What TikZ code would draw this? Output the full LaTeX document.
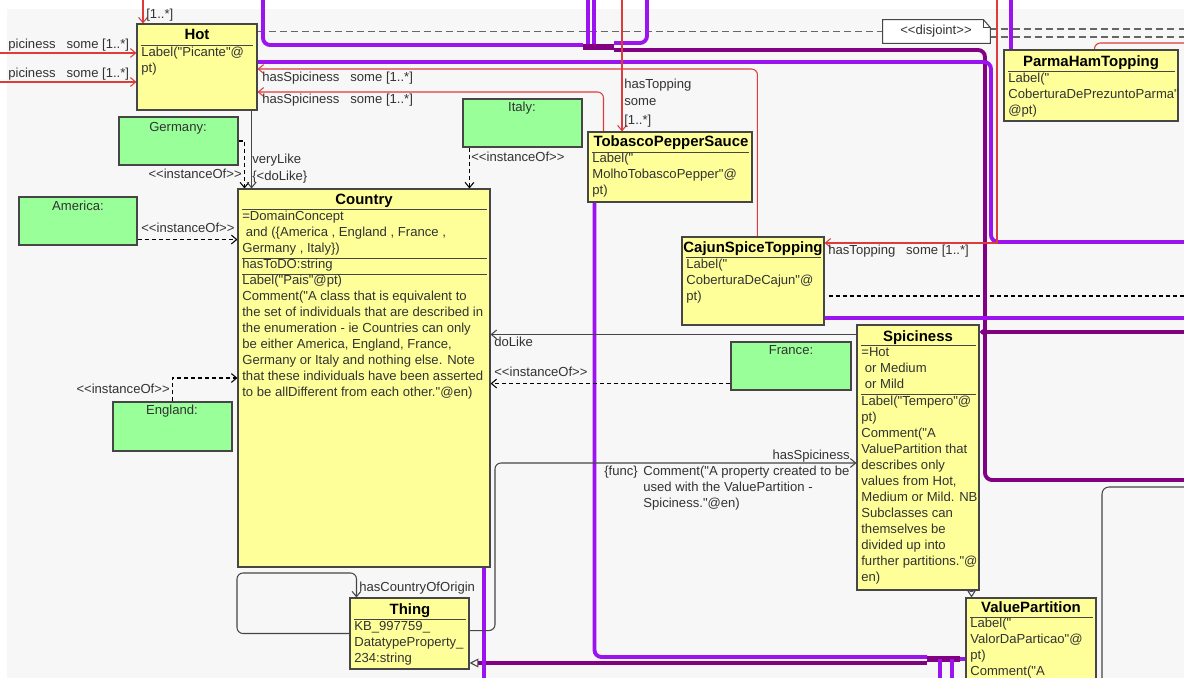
\documentclass[tikz,border=0pt]{standalone}
\usepackage{fontspec}
\newfontfamily\umlfont{Liberation Sans}
\usetikzlibrary{arrows.meta}
\usetikzlibrary{fit,backgrounds}
\usepackage{xcolor}

\definecolor{clsyellow}{RGB}{255,255,153}
\definecolor{instgreen}{RGB}{153,255,153}
\definecolor{canvasgray}{RGB}{247,247,247}
\definecolor{relred}{RGB}{222,60,60}
\definecolor{isaviolet}{RGB}{155,20,240}
\definecolor{isapurple}{RGB}{130,0,130}
\definecolor{edgegray}{RGB}{70,70,70}

\tikzset{
  cls/.style={draw=edgegray, fill=clsyellow, inner sep=0pt, line width=0.6pt},
  inst/.style={draw=edgegray, fill=instgreen, inner sep=0pt, line width=0.6pt},
  body/.style={inner sep=0pt, anchor=base west, text=black!80, font=\umlfont\fontsize{7.45}{9}\selectfont},
  instlbl/.style={body, anchor=base},
  ttl/.style={inner sep=0pt, anchor=base, font=\umlfont\bfseries\fontsize{8.5}{10}\selectfont},
  sep/.style={edgegray, line width=0.5pt},
  rel/.style={relred, line width=0.6pt, -{Straight Barb[length=3pt,width=5pt]}},
  assoc/.style={edgegray, line width=0.6pt, -{Straight Barb[length=3pt,width=5pt]}},
  dsh/.style={black, line width=0.6pt, dash pattern=on 2.3pt off 1.7pt},
  inof/.style={dsh, -{Straight Barb[length=3pt,width=5pt]}},
  disj/.style={black!60, line width=0.6pt, dash pattern=on 4pt off 2.3pt},
  isa/.style={isaviolet, line width=2.2pt},
  isb/.style={isapurple, line width=2.2pt},
}

\begin{document}
\begin{tikzpicture}[x=0.02cm, y=-0.02cm]
\useasboundingbox (0,0) rectangle (1184,678);

% classes
\node[cls, fit={(137,24) (257,110)}] (hot) {};
\node[cls, fit={(238,189) (490,567)}] (country) {};
\node[cls, fit={(588,132) (752,202)}] (tobasco) {};
\node[cls, fit={(682,237) (824,325)}] (cajun) {};
\node[cls, fit={(1004,50) (1178,121)}] (parma) {};
\node[cls, fit={(857,325) (979,590)}] (spiciness) {};
\node[cls, fit={(966,598) (1096,700)}] (valuepart) {};
\node[cls, fit={(350,598) (469,669)}] (thing) {};

% individuals
\node[inst, fit={(119,117) (238,165)}] (germany) {};
\node[inst, fit={(463,99) (582,147)}] (italy) {};
\node[inst, fit={(19,197) (137,245)}] (america) {};
\node[inst, fit={(113,402) (232,451)}] (england) {};
\node[inst, fit={(731,342) (851,390)}] (france) {};

% disjoint note
\node[inner sep=0pt, fit={(883,20) (990,43)}] (disjoint) {};
\draw[edgegray, fill=white, line width=0.6pt] (disjoint.south west) -- (disjoint.north west)
  -- ([xshift=-0.14cm]disjoint.north east) -- ([yshift=-0.16cm]disjoint.north east)
  -- (disjoint.south east) -- cycle;
\draw[edgegray, line width=0.6pt] ([xshift=-0.14cm]disjoint.north east) |- ([yshift=-0.16cm]disjoint.north east);
\node[instlbl] (disjoint-t) at (936,35) {<<disjoint>>};

% titles
\node[ttl] (hot-t) at (197,40) {Hot};
\node[ttl] (country-t) at (364,205) {Country};
\node[ttl] (tobasco-t) at (671,147) {TobascoPepperSauce};
\node[ttl] (cajun-t) at (753,253) {CajunSpiceTopping};
\node[ttl] (parma-t) at (1091,67) {ParmaHamTopping};
\node[ttl] (spiciness-t) at (918,342) {Spiciness};
\node[ttl] (valuepart-t) at (1031,613) {ValuePartition};
\node[ttl] (thing-t) at (410,615) {Thing};

% compartment lines
\draw[sep] (141,45) -- (253,45);
\foreach \y in {209,258,274}
  \draw[sep] (242,\y) -- (487,\y);
\draw[sep] (592,152) -- (749,152);
\draw[sep] (686,257) -- (821,257);
\draw[sep] (1008,71) -- (1175,71);
\foreach \y in {345,394}
  \draw[sep] (861,\y) -- (976,\y);
\draw[sep] (970,617) -- (1093,617);
\draw[sep] (354,619) -- (466,619);

% class texts
\foreach \t [count=\i from 0] in {{Label("Picante"@}, {pt)}}
  \node[body] (hot-\i) at (141,{57+16*\i}) {\t};
\foreach \t [count=\i from 0] in {{=DomainConcept},
    {\hspace{2pt}and (\{America , England , France ,},
    {Germany , Italy\})},
    {hasToDO:string},
    {Label("Pais"@pt)},
    {Comment("A class that is equivalent to},
    {the set of individuals that are described in},
    {the enumeration - ie Countries can only},
    {be either America, England, France,},
    {Germany or Italy and nothing else. Note},
    {that these individuals have been asserted},
    {to be allDifferent from each other."@en)}}
  \node[body] (country-\i) at (242,{221+16*\i}) {\t};
\foreach \t [count=\i from 0] in {{Label("}, {MolhoTobascoPepper"@}, {pt)}}
  \node[body] (tobasco-\i) at (592,{163+16*\i}) {\t};
\foreach \t [count=\i from 0] in {{Label("}, {CoberturaDeCajun"@}, {pt)}}
  \node[body] (cajun-\i) at (686,{269+16*\i}) {\t};
\foreach \t [count=\i from 0] in {{Label("}, {CoberturaDePrezuntoParma"}, {@pt)}}
  \node[body] (parma-\i) at (1008,{83+16*\i}) {\t};
\foreach \t [count=\i from 0] in {{=Hot}, {\hspace{2pt}or Medium}, {\hspace{2pt}or Mild}}
  \node[body] (spicy-\i) at (861,{357+16*\i}) {\t};
\foreach \t [count=\i from 0] in {{Label("Tempero"@}, {pt)}, {Comment("A},
    {ValuePartition that}, {describes only}, {values from Hot,},
    {Medium or Mild. NB}, {Subclasses can}, {themselves be},
    {divided up into}, {further partitions."@}, {en)}}
  \node[body] (spiciness-\i) at (861,{406+16*\i}) {\t};
\foreach \t [count=\i from 0] in {{Label("}, {ValorDaParticao"@}, {pt)}, {Comment("A}}
  \node[body] (valuepart-\i) at (970,{628+16*\i}) {\t};
\foreach \t [count=\i from 0] in {{KB\_997759\_}, {DatatypeProperty\_}, {234:string}}
  \node[body] (thing-\i) at (354,{631+16*\i}) {\t};

% individual names
\node[instlbl] (germany-t) at (178,132) {Germany:};
\node[instlbl] (italy-t) at (522,112) {Italy:};
\node[instlbl] (america-t) at (78,211) {America:};
\node[instlbl] (england-t) at (172,415) {England:};
\node[instlbl] (france-t) at (791,355) {France:};

% free ends
\foreach \n/\x/\y in {tA/143/0, tB/622/0, tC/997/0, v1/263/0, v2/588/0, v3/594/0,
    v4/647/0, v6/1011/0, lA/0/53, lB/0/82, rA/1190/43, rB/1190/29, rC/1190/37,
    rD/1190/296, rE/1190/480, rF/1190/242, rG/1190/318, rH/1190/332,
    bA/484/690, bB/940/690, bC/952/690, barA/583/47, barB/614/47,
    barC/927/659, barD/960/659}
  \coordinate (\n) at (\x,\y);

\begin{scope}[on background layer]
\fill[canvasgray] (0,0) rectangle (1184,678);
\fill[white] (0,0) rectangle (1184,9);
\fill[white] (0,0) rectangle (7,678);

% disjointness
\draw[disj] (hot.east |- disjoint.west) -- (disjoint.west);
\draw[disj] (disjoint.east |- rB) -- (rB);
\draw[disj] (disjoint.east |- rC) -- (rC);
\draw[dsh] ([xshift=0.08cm]cajun.east |- rD) -- (rD);

% subclass tree
\draw[isa, rounded corners=4pt] (v1) |- ([yshift=0.04cm]barA);
\draw[isa] (v2) -- (v2 |- barA);
\draw[isa] (v3) -- (v3 |- barA);
\draw[isb, line width=3pt] (barA) -- (barB);
\draw[isa, rounded corners=4pt] (v4) |- ([yshift=0.08cm]barB);
\draw[isb, rounded corners=4pt] ([yshift=-0.06cm]barB) -| (985,480) -- (rE);
\draw[isa, rounded corners=4pt] (hot.east |- 0,62) -| (991,242) -- (rF);
\draw[isa] (v6) -- (v6 |- parma.north);
\draw[isa] (cajun.east |- rG) -- (rG);
\draw[isb, -{Straight Barb[length=3pt,width=5pt,line width=0.7pt]}] (rH) -- (spiciness.east |- rH);
\draw[isa, rounded corners=4pt] ([xshift=0.14cm]tobasco.south west) |- ([yshift=0.04cm]barC);
\draw[isb, {Triangle[open,length=5pt,width=5pt,line width=0.6pt,color=edgegray]}-] (thing.east |- 0,663) -- (barC |- 0,663);
\draw[isb, line width=3pt] (barC) -- (barD);
\draw[isa] (bB |- barC) -- (bB);
\draw[isa] (bC |- barC) -- (bC);
\draw[isa] (barD) -- (valuepart.west |- barD);
\draw[isa] (bA |- country.south) -- (bA);
\draw[isa, line width=1.4pt, -{Triangle[open,length=4pt,width=5pt,line width=0.6pt,color=edgegray]}]
  ([xshift=-0.16cm]spiciness.south east) -- ([xshift=-0.16cm]spiciness.south east |- valuepart.north);

% restrictions
\draw[rel] (lA) -- (lA -| hot.west);
\draw[rel] (lB) -- (lB -| hot.west);
\draw[rel] (tA) -- (tA |- hot.north);
\draw[rel, rounded corners=3.4pt] ([xshift=1.52cm]cajun.north west) |- (hot.east |- 0,69);
\draw[rel, rounded corners=3.4pt] ([xshift=0.32cm]tobasco.north west) |- (hot.east |- 0,92);
\draw[rel] (tB) -- (tB |- tobasco.north);
\draw[rel] (tC) |- (cajun.east |- 0,243);
\draw[relred, line width=0.6pt, rounded corners=3.4pt] ([xshift=1.82cm]parma.north west) |- (rA);

% instances
\draw[inof] (germany.east) -| ([xshift=0.14cm]country.north west);
\draw[inof] ([xshift=0.14cm]italy.south west) -- ([xshift=0.14cm]italy.south west |- country.north);
\draw[inof] ([yshift=0.12cm]america.south east) -- ([yshift=0.12cm]america.south east -| country.west);
\draw[inof] (england.north) |- (country.west);
\draw[inof] ([yshift=0.14cm]france.south west) -- ([yshift=0.14cm]france.south west -| country.east);

% object properties
\draw[assoc] ([xshift=-0.12cm]hot.south east) -- ([xshift=-0.12cm]hot.south east |- country.north);
\draw[assoc] ([yshift=-0.2cm]spiciness.north west) -- ([yshift=-0.2cm]spiciness.north west -| country.east);
\draw[assoc, rounded corners=3.4pt] ([yshift=0.78cm]thing.south east) -| (495,463) -- (spiciness.west |- 495,463);
\draw[assoc, rounded corners=3.4pt] (thing.west) -| (237,573) -| ([xshift=0.14cm]thing.north west);
\draw[edgegray, line width=0.6pt, rounded corners=4pt] (1102,690) |- (1190,487);
\end{scope}

% connector labels
\node[body] (l-sp1) at (8,49) {piciness\ \ \ some [1..*]};
\node[body] (l-sp2) at (8,78) {piciness\ \ \ some [1..*]};
\node[body] (l-top) at (146,19) {[1..*]};
\node[body] (l-sp3) at (262,82) {hasSpiciness\ \ \ some [1..*]};
\node[body] (l-sp4) at (262,104) {hasSpiciness\ \ \ some [1..*]};
\node[body] (l-tp1) at (624,89) {hasTopping};
\node[body] (l-tp2) at (624,106) {some};
\node[body] (l-tp3) at (624,125) {[1..*]};
\node[body] (l-tp4) at (828,255) {hasTopping\ \ \ some [1..*]};
\node[body] (l-very) at (252,164) {veryLike};
\node[body] (l-dol) at (252,181) {\{<doLike\}};
\node[body, anchor=base east] (l-ger) at (242,179) {<<instanceOf>>};
\node[body] (l-ita) at (471,162) {<<instanceOf>>};
\node[body] (l-ame) at (141,233) {<<instanceOf>>};
\node[body, anchor=base east] (l-eng) at (170,394) {<<instanceOf>>};
\node[body] (l-dolike) at (494,347) {doLike};
\node[body] (l-fra) at (494,377) {<<instanceOf>>};
\node[body, anchor=base east] (l-hs) at (850,460) {hasSpiciness};
\node[body] (l-func) at (604,476) {\{func\}};
\foreach \t [count=\i from 0] in {{Comment("A property created to be},
    {used with the ValuePartition -}, {Spiciness."@en)}}
  \node[body] (l-com\i) at (643,{476+16*\i}) {\t};
\node[body] (l-origin) at (359,592) {hasCountryOfOrigin};
\end{tikzpicture}
\end{document}
